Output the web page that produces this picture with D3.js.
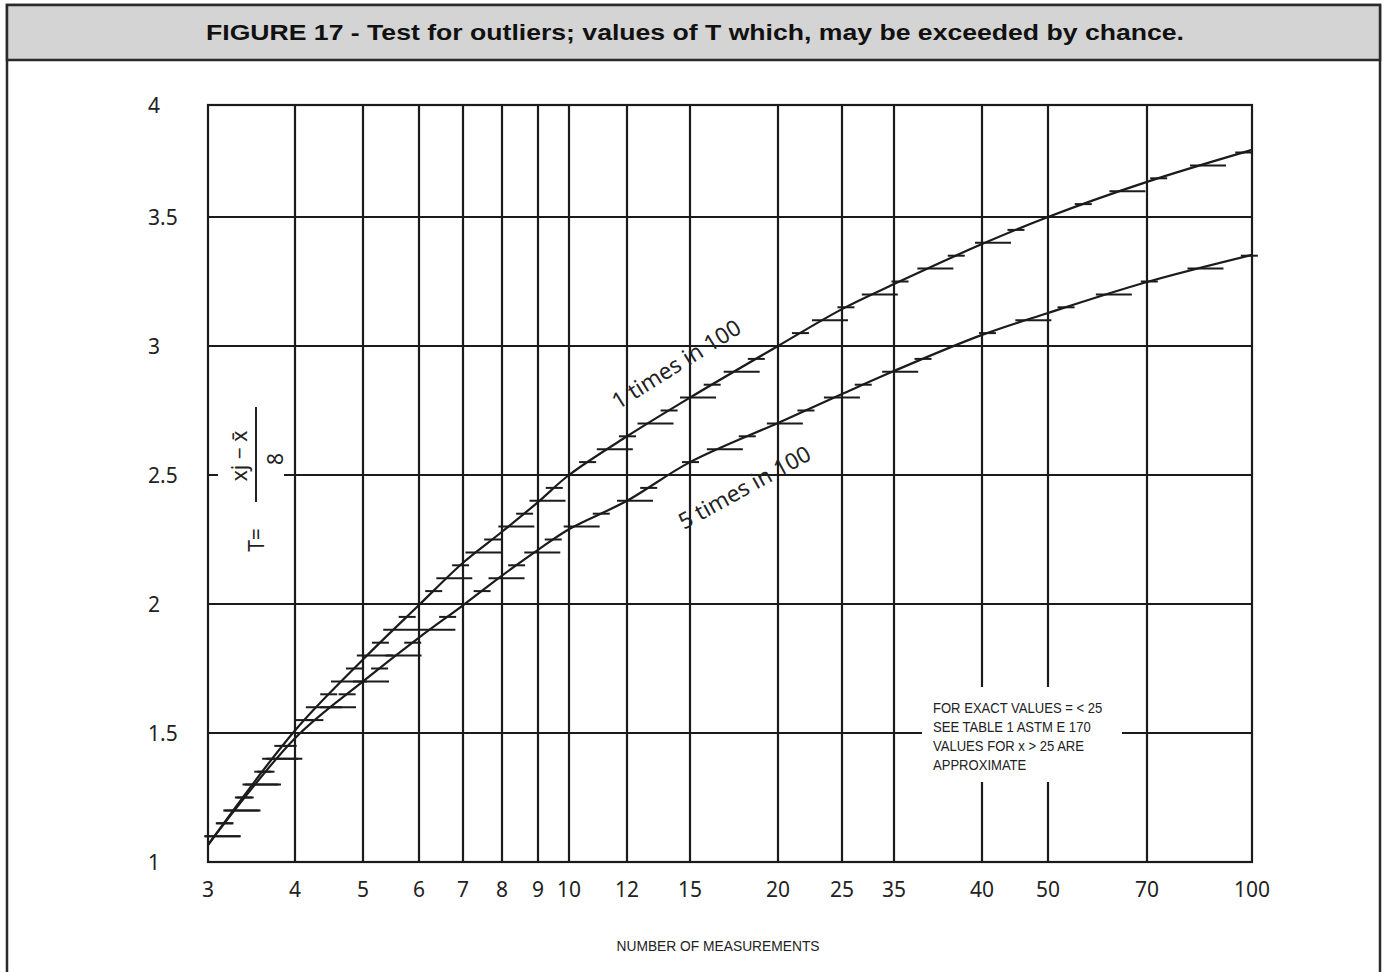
<!DOCTYPE html>
<html><head><meta charset="utf-8">
<script src="https://cdn.jsdelivr.net/npm/d3@7"></script>
<style>body{margin:0;background:#fff}svg{display:block}</style>
</head><body><svg id="c" width="1385" height="972"></svg>
<script>
// ---------- data ----------
const title = "FIGURE 17 - Test for outliers; values of T which, may be exceeded by chance.";
const xTickValues = [3,4,5,6,7,8,9,10,12,15,20,25,35,40,50,70,100];
const yTickValues = [1,1.5,2,2.5,3,3.5,4];
const yGridValues = [1.5,2,2.5,3,3.5];
const oneIn100  = [1.066,1.51,1.785,1.996,2.16,2.28,2.395,2.50,2.65,2.80,3.0,3.143,3.24,3.395,3.5,3.636,3.76];
const fiveIn100 = [1.066,1.48,1.70,1.87,1.995,2.11,2.21,2.29,2.40,2.55,2.702,2.814,2.903,3.043,3.128,3.248,3.353];
const seriesNames = ["1 times in 100","5 times in 100"];
const noteLines = ["FOR EXACT VALUES = < 25","SEE TABLE 1 ASTM E 170","VALUES FOR x > 25 ARE","APPROXIMATE"];
const xTitle = "NUMBER OF MEASUREMENTS";
const tickStep = 0.05;   // T interval of the small marks along the curves

// ---------- layout ----------
const P = {l:208, r:1252, t:105, b:862};
// hand-drawn (non-uniform) positions of the x gridlines, offsets from plot left
const xOffsets = [0,87,155,211,255,294,330,361,419,482,570,634,686,774,840,939,1044];
const ink = "#1b1b1b";
const numFont = "'Noto Sans', 'Open Sans', sans-serif";
const narrowFont = "'Liberation Sans Narrow','Arial Narrow','Liberation Sans',sans-serif";

const svg = d3.select("#c");
const x = d3.scaleLinear().domain(xTickValues).range(xOffsets.map(o => P.l + o));
const y = d3.scaleLinear().domain([1,3.5]).range([P.b, 217]);

// frame + title bar
svg.append("rect").attr("x",7).attr("y",5).attr("width",1373).attr("height",990)
  .attr("fill","#fff").attr("stroke","#2a2a2a").attr("stroke-width",2.5);
svg.append("rect").attr("x",7).attr("y",5).attr("width",1373).attr("height",55)
  .attr("fill","#d4d4d4").attr("stroke","#2a2a2a").attr("stroke-width",2.5);
svg.append("text").attr("x",695).attr("y",40).attr("text-anchor","middle")
  .attr("font-family","'Liberation Sans',Arial,sans-serif").attr("font-weight","bold")
  .attr("font-size",22).attr("fill","#111")
  .attr("textLength",978).attr("lengthAdjust","spacingAndGlyphs").text(title);

// gridlines
const g = svg.append("g");
g.selectAll(".vg").data(xTickValues.slice(1,-1)).join("line")
  .attr("x1",d=>x(d)).attr("x2",d=>x(d)).attr("y1",P.t).attr("y2",P.b)
  .attr("stroke",ink).attr("stroke-width",2.2);
g.selectAll(".hg").data(yGridValues).join("line")
  .attr("x1",P.l).attr("x2",P.r).attr("y1",d=>y(d)).attr("y2",d=>y(d))
  .attr("stroke",ink).attr("stroke-width",2.2);
// gaps behind the y label and the note
g.append("rect").attr("x",218).attr("y",y(2.5)-5).attr("width",66).attr("height",10).attr("fill","#fff");
g.append("rect").attr("x",922).attr("y",687).attr("width",200).attr("height",95).attr("fill","#fff");
// plot border
g.append("rect").attr("x",P.l).attr("y",P.t).attr("width",P.r-P.l).attr("height",P.b-P.t)
  .attr("fill","none").attr("stroke",ink).attr("stroke-width",2.2);

// axis labels
svg.append("g").selectAll("text").data(xTickValues).join("text")
  .attr("x",d=>x(d)).attr("y",897).attr("text-anchor","middle")
  .attr("font-family",numFont).attr("font-size",21).attr("fill","#222").text(d=>d);
svg.append("g").selectAll("text").data(yTickValues).join("text")
  .attr("x",148).attr("y",d=>Math.max(y(d),P.t)+7.5)
  .attr("font-family",numFont).attr("font-size",21).attr("fill","#222").text(d=>d);
svg.append("text").attr("x",718).attr("y",951).attr("text-anchor","middle")
  .attr("font-family",narrowFont).attr("font-size",14).attr("fill","#222")
  .attr("textLength",203).attr("lengthAdjust","spacingAndGlyphs").text(xTitle);

// y label  T = (xj - x̄)/8
const yl = svg.append("g").attr("font-family",numFont).attr("font-size",21).attr("fill","#222");
yl.append("text").attr("transform","translate(264,540) rotate(-90)").attr("text-anchor","middle").text("T=");
yl.append("text").attr("transform","translate(247,456) rotate(-90)").attr("text-anchor","middle").text("xj \u2212 x\u0304");
yl.append("line").attr("x1",256).attr("x2",256).attr("y1",407).attr("y2",502).attr("stroke","#222").attr("stroke-width",2);
yl.append("text").attr("transform","translate(283,459) rotate(-90)").attr("text-anchor","middle").text("8");

// curves
const series = [oneIn100, fiveIn100];
const line = d3.line().x((d,i)=>x(xTickValues[i])).y(d=>y(d)).curve(d3.curveCatmullRom.alpha(0.5));
series.forEach(vals => {
  const path = svg.append("path").attr("d",line(vals)).attr("fill","none")
    .attr("stroke",ink).attr("stroke-width",2.2);
  const node = path.node(), len = node.getTotalLength();
  const pts = [];
  for (let s=0; s<=len; s+=0.5) pts.push(node.getPointAtLength(s));
  pts.push(node.getPointAtLength(len));
  const kMin = Math.round(1.1/tickStep), kMax = Math.floor(d3.max(vals)/tickStep + 1e-6);
  const marks = [];
  for (let k=kMin; k<=kMax; k++) {
    const yy = y(k*tickStep);
    for (let i=0;i<pts.length-1;i++) {
      const a=pts[i], b=pts[i+1];
      if ((a.y>=yy && b.y<=yy)) {
        const t = a.y===b.y?0:(a.y-yy)/(a.y-b.y);
        marks.push({x:a.x+(b.x-a.x)*t, y:yy, long:k%2===0});
        break;
      }
    }
  }
  svg.append("g").selectAll("line").data(marks).join("line")
    .attr("x1",d=>d.long? d.x-10 : d.x-8).attr("x2",d=>d.long? d.x+26 : d.x+9)
    .attr("y1",d=>d.y).attr("y2",d=>d.y)
    .attr("stroke",ink).attr("stroke-width",2);
});

// curve labels
svg.append("text").attr("transform","translate(618,410) rotate(-32)")
  .attr("font-family",numFont).attr("font-size",22.5).attr("fill","#222").text(seriesNames[0]);
svg.append("text").attr("transform","translate(684,530) rotate(-29)")
  .attr("font-family",numFont).attr("font-size",22.5).attr("fill","#222").text(seriesNames[1]);

// note (condensed lettering)
svg.append("g").selectAll("text").data(noteLines).join("text")
  .attr("x",933).attr("y",(d,i)=>713+i*19)
  .attr("font-family",narrowFont).attr("font-size",14.5).attr("fill","#222")
  .text(d=>d)
  .each(function(){
    const w = this.getComputedTextLength();
    d3.select(this).attr("textLength", w*0.9).attr("lengthAdjust","spacingAndGlyphs");
  });
</script></body></html>
